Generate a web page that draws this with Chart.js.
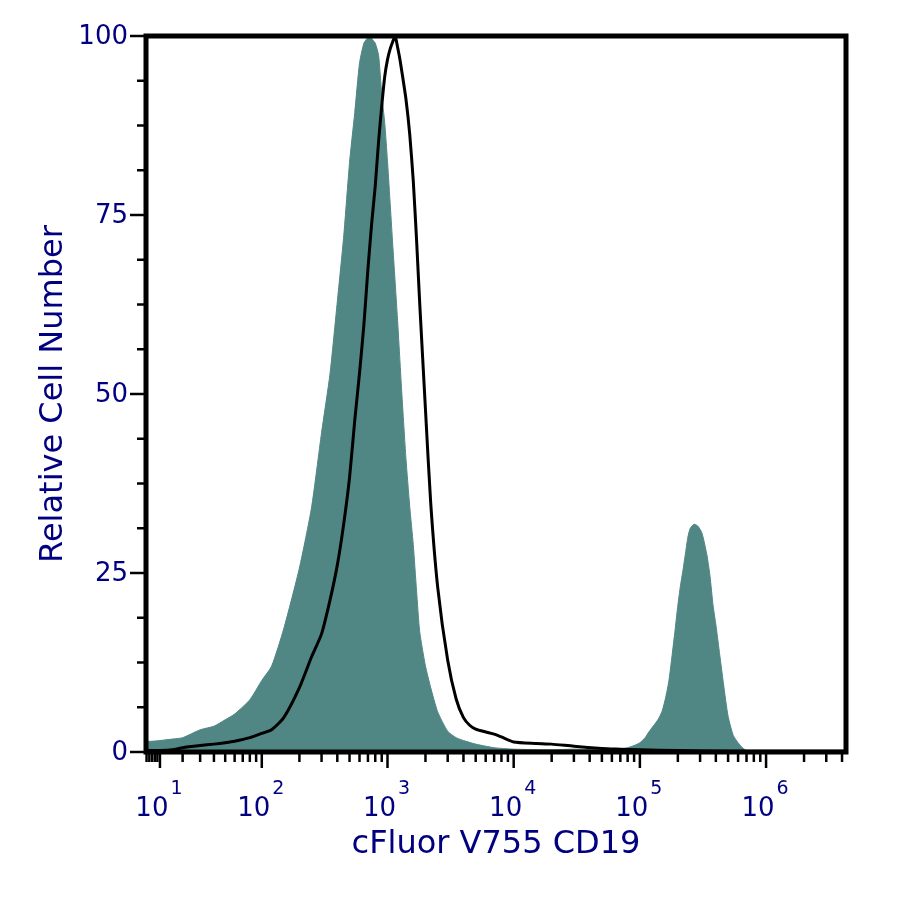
<!DOCTYPE html>
<html>
<head>
<meta charset="utf-8">
<script src="https://cdn.jsdelivr.net/npm/chart.js@4/dist/chart.umd.min.js"></script>
<style>
  html, body { margin: 0; padding: 0; background: #ffffff; }
  #wrap { width: 900px; height: 900px; }
</style>
</head>
<body>
<div id="wrap"><canvas id="c" width="900" height="900"></canvas></div>
<script>
// ---------------- data ----------------
// Filled (teal) histogram: fluorescence value and relative cell number
const cd19X = [4.8, 7, 10, 15, 20, 30, 40, 50, 60, 80, 100, 120, 150, 200, 250, 300, 350, 400, 450, 500,
  550, 600, 650, 700, 730, 760, 800, 850, 900, 950, 1000, 1100, 1200, 1300, 1400, 1500, 1600, 1700, 1800, 2000,
  2200, 2500, 3000, 3500, 4000, 5000, 7000, 10000, 20000, 30000, 50000, 70000, 80000, 90000, 100000,
  110000, 120000, 130000, 140000, 150000, 160000, 170000, 180000, 190000, 200000, 210000, 220000, 230000,
  240000, 250000, 260000, 270000, 280000, 290000, 300000, 310000, 320000, 340000, 360000, 380000, 400000,
  430000, 460000, 500000, 550000, 600000, 650000, 700000, 800000, 4300000];
const cd19Y = [1.5, 1.5, 1.6, 1.8, 2.0, 3.1, 3.6, 4.5, 5.3, 7.3, 10.0, 12.0, 17.2, 25.7, 34.2, 44.6, 52.8, 62.9, 72.1, 82.3,
  89.3, 96.2, 99.0, 99.8, 100, 99.5, 99.0, 97.3, 91.9, 87.9, 82.5, 70.9, 60.5, 50.0, 41.0, 34.3, 29.0, 22.5, 16.8, 12.0,
  9.0, 5.6, 2.9, 2.0, 1.6, 1.1, 0.6, 0.4, 0.3, 0.4, 0.3, 0.4, 0.6, 0.9, 1.3,
  2.0, 3.0, 3.8, 4.6, 5.7, 7.6, 10.0, 13.5, 17.0, 20.5, 23.3, 25.5, 27.8,
  30.0, 31.2, 31.6, 31.8, 31.7, 31.5, 31.1, 30.6, 29.7, 27.5, 24.5, 20.5, 17.8,
  13.5, 9.5, 5.0, 2.3, 1.3, 0.6, 0.2, 0, 0];

// Open (black line) histogram
const ctrlX = [4.8, 10, 15, 20, 30, 40, 50, 60, 80, 100, 120, 150, 200, 250, 300, 350, 400, 450, 500, 550,
  600, 650, 700, 750, 800, 850, 900, 950, 1000, 1050, 1100, 1150, 1200, 1250, 1300, 1400, 1500, 1600, 1700, 1800,
  2000, 2200, 2500, 3000, 3500, 4000, 4500, 5000, 6000, 7000, 8000, 10000, 15000, 20000, 30000, 50000, 70000,
  100000, 200000, 500000, 4300000];
const ctrlY = [0.2, 0.2, 0.3, 0.6, 0.9, 1.1, 1.3, 1.5, 2.0, 2.6, 3.1, 4.8, 9.0, 13.3, 16.5, 21.2, 26.1, 31.9, 38.3, 46.3,
  52.9, 59.7, 67.5, 73.9, 79.1, 85.3, 90.2, 94.3, 96.7, 98.2, 99.2, 100, 98.5, 96.9, 95.0, 91.2, 86.3, 79.8, 71.5, 62.7,
  47.8, 34.8, 23.0, 12.8, 7.4, 4.8, 3.7, 3.2, 2.8, 2.5, 2.1, 1.4, 1.2, 1.1, 0.8, 0.5, 0.4,
  0.3, 0.2, 0.1, 0.1];

// axis ticks and labels
const xMajorTicks = [10, 100, 1000, 10000, 100000, 1000000];
const xMajorExponents = ['1', '2', '3', '4', '5', '6'];
const yMajorTicks = [0, 25, 50, 75, 100];
const xTitle = 'cFluor V755 CD19';
const yTitle = 'Relative Cell Number';

// ---------------- biexponential-like x scale ----------------
const LOGICLE_C = 9.5;
function gT(v) { return Math.log10((v + Math.sqrt(v * v + 4 * LOGICLE_C * LOGICLE_C)) / 2); }
function gInv(u) { const w = Math.pow(10, u); return w - LOGICLE_C * LOGICLE_C / w; }

class LogicleScale extends Chart.LinearScale {
  determineDataLimits() { this.min = this.options.min; this.max = this.options.max; }
  buildTicks() { return xMajorTicks.map(v => ({ value: v })); }
  configure() {
    super.configure();
    this._gMin = gT(this.min);
    this._gMax = gT(this.max);
  }
  getPixelForValue(value) {
    return this.getPixelForDecimal((gT(value) - this._gMin) / (this._gMax - this._gMin));
  }
  getValueForPixel(pixel) {
    const d = this.getDecimalForPixel(pixel);
    return gInv(this._gMin + d * (this._gMax - this._gMin));
  }
}
LogicleScale.id = 'logicle';
LogicleScale.defaults = Chart.LinearScale.defaults;
Chart.register(LogicleScale);

const NAVY = '#000080';
const TEAL = '#508683';
const FONT = '"DejaVu Sans", Verdana, sans-serif';

const axesPlugin = {
  id: 'flowAxes',
  afterDraw(chart) {
    const ctx = chart.ctx;
    const xs = chart.scales.x, ys = chart.scales.y;
    const a = chart.chartArea;
    ctx.save();
    ctx.strokeStyle = '#000';
    ctx.lineCap = 'butt';
    // x minor / major ticks
    ctx.lineWidth = 2.5;
    for (let e = 0; e <= 6; e++) {
      for (let m = 1; m <= 9; m++) {
        const v = m * Math.pow(10, e);
        if (v < xs.min || v > xs.max) continue;
        const p = xs.getPixelForValue(v);
        const major = (m === 1 && e >= 1);
        ctx.beginPath();
        ctx.moveTo(p, a.bottom);
        ctx.lineTo(p, a.bottom + (major ? 16 : 10));
        ctx.stroke();
      }
    }
    // y ticks
    for (let v = 0; v <= 100; v += 6.25) {
      const p = ys.getPixelForValue(v);
      const major = Math.abs(v % 25) < 1e-9;
      ctx.beginPath();
      ctx.moveTo(a.left, p);
      ctx.lineTo(a.left - (major ? 16 : 9), p);
      ctx.stroke();
    }
    // frame
    ctx.lineWidth = 5;
    ctx.strokeRect(a.left, a.top, a.right - a.left, a.bottom - a.top);

    // x tick labels with exponents
    ctx.fillStyle = NAVY;
    ctx.textBaseline = 'alphabetic';
    ctx.textAlign = 'left';
    xMajorTicks.forEach((v, i) => {
      const p = xs.getPixelForValue(v);
      ctx.font = '26px ' + FONT;
      const wb = ctx.measureText('10').width;
      ctx.font = '19px ' + FONT;
      const we = ctx.measureText(xMajorExponents[i]).width;
      const start = p - (wb + 2 + we) / 2 - 1;
      ctx.font = '26px ' + FONT;
      ctx.fillText('10', start, 816);
      ctx.font = '19px ' + FONT;
      ctx.fillText(xMajorExponents[i], start + wb + 2, 794);
    });
    // y tick labels
    ctx.font = '26px ' + FONT;
    ctx.textAlign = 'right';
    ctx.textBaseline = 'middle';
    yMajorTicks.forEach(v => {
      ctx.fillText(String(v), 128, ys.getPixelForValue(v) + 1);
    });
    // titles
    ctx.font = '32px ' + FONT;
    ctx.textAlign = 'center';
    ctx.textBaseline = 'alphabetic';
    ctx.fillText(xTitle, (a.left + a.right) / 2, 853);
    ctx.save();
    ctx.translate(62, (a.top + a.bottom) / 2);
    ctx.rotate(-Math.PI / 2);
    ctx.fillText(yTitle, 0, 0);
    ctx.restore();
    ctx.restore();
  }
};

new Chart(document.getElementById('c'), {
  type: 'line',
  data: {
    datasets: [
      {
        label: 'Isotype',
        data: ctrlX.map((x, i) => ({ x: x, y: ctrlY[i] })),
        borderColor: '#000000',
        borderWidth: 3,
        fill: false,
        pointRadius: 0,
        tension: 0.2,
        order: 0
      },
      {
        label: 'CD19',
        data: cd19X.map((x, i) => ({ x: x, y: cd19Y[i] })),
        borderColor: TEAL,
        backgroundColor: TEAL,
        borderWidth: 1,
        fill: 'origin',
        pointRadius: 0,
        tension: 0.2,
        order: 1
      }
    ]
  },
  options: {
    responsive: false,
    animation: false,
    devicePixelRatio: 1,
    layout: { padding: { left: 146, top: 36, right: 54, bottom: 148 } },
    plugins: { legend: { display: false }, tooltip: { enabled: false } },
    scales: {
      x: { type: 'logicle', min: 4.8, max: 4300000, display: false },
      y: { type: 'linear', min: 0, max: 100, display: false }
    }
  },
  plugins: [axesPlugin]
});
</script>
</body>
</html>
